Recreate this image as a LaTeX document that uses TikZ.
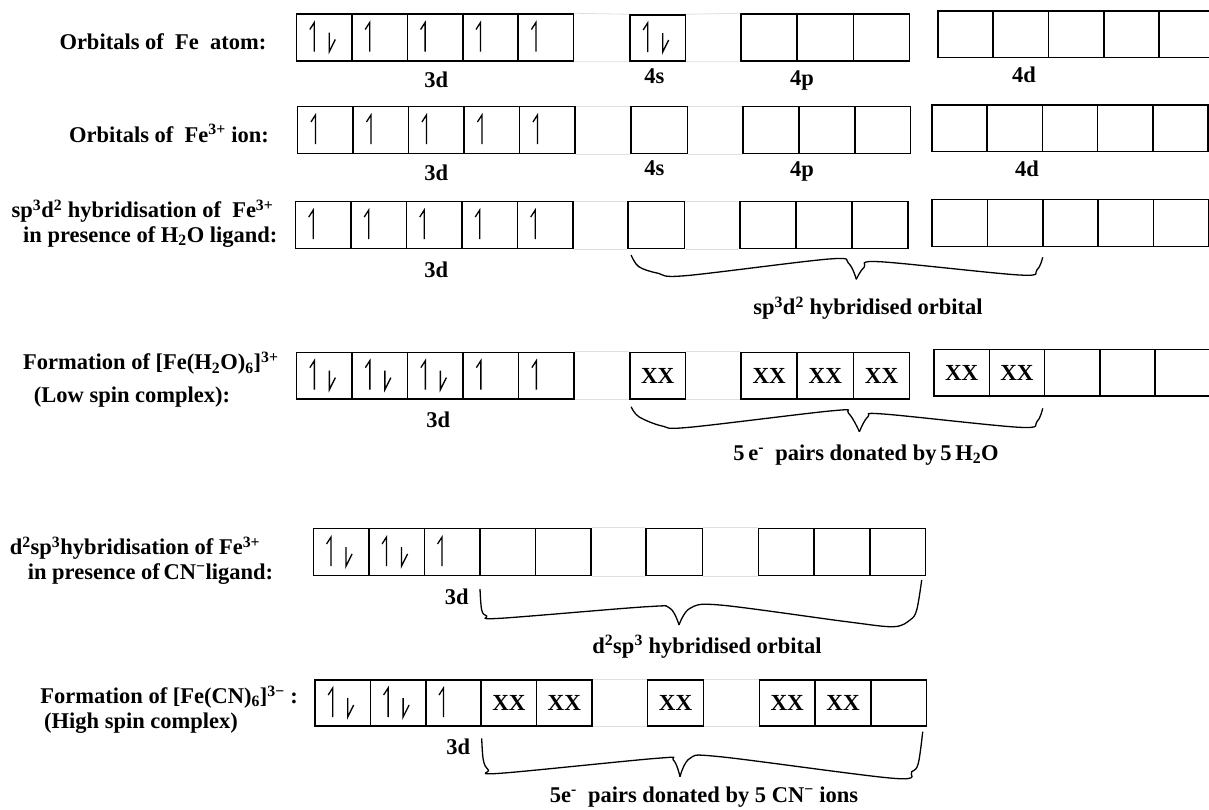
\documentclass[tikz,border=0pt]{standalone}
\usepackage{fontspec}
\setmainfont{Liberation Serif}
\begin{document}
\begin{tikzpicture}[x=1pt,y=-1pt,
  obox/.style={draw, line width=1.5pt, inner sep=0pt, font=\bfseries\fontsize{23}{23}\selectfont},
  spin/.style={line width=1.3pt, line join=miter},
  lab/.style={font=\bfseries\fontsize{22.5}{25}\selectfont, inner sep=0pt},
  gridln/.style={draw=gray!25, line width=0.8pt},
  brace/.style={line width=1.3pt},
  orbu/.pic={\draw[spin] (-10,14) -- (-10,-15) -- (-14.5,-8);},
  orbud/.pic={\draw[spin] (-10,14) -- (-10,-15) -- (-14.5,-8);
              \draw[spin] (5,-5) -- (5,14) -- (11,2);},
  orbx/.pic={},
  orbe/.pic={}
]
\fill[white] (0,0) rectangle (1209,809);
\useasboundingbox (0,0) rectangle (1209,809);

% #1 name prefix, #2 x left, #3 y top, #4 y bottom, #5 box width, #6 list kind/text
\newcommand{\orbs}[6]{%
  \foreach \kind/\ctext [count=\ii] in {#6} {%
    \node[obox, minimum width=#5, minimum height={#4-#3}] (#1\ii) at ({#2+#5*(\ii-0.5)},{(#3+#4)/2}) {\ctext};
    \pic at (#1\ii.center) {orb\kind};
  }}

% ---------- Row 1: Fe atom ----------
\orbs{ad}{296.6}{14}{61}{55.4}{ud/,u/,u/,u/,u/}
\orbs{as}{629.9}{15}{61}{55.5}{ud/}
\orbs{ap}{741}{14}{61}{56.2}{e/,e/,e/}
\orbs{ae}{937.9}{11}{57.7}{55.3}{e/,e/,e/,e/,e/}
\draw[gridln] (ad5.north east) -- (as1.north west) (as1.north east) -- (ap1.north west)
              (ad5.south east) -- (as1.south west) (as1.south east) -- (ap1.south west);
\node[lab, anchor=west] (t1) at (59.3,41.7) {Orbitals of\ \ Fe\ \ atom:};
\node[lab] (ad-l) at (436.3,80) {3d};
\node[lab] (as-l) at (654.4,76.7) {4s};
\node[lab] (ap-l) at (802,80) {4p};
\node[lab] (ae-l) at (1024,75) {4d};

% ---------- Row 2: Fe3+ ion ----------
\orbs{bd}{297.7}{106.7}{153.3}{55.5}{u/,u/,u/,u/,u/}
\orbs{bs}{631}{106.7}{153.3}{56.4}{e/}
\orbs{bp}{743}{106.7}{153.3}{55.9}{e/,e/,e/}
\orbs{be}{932}{105}{151.7}{55.2}{e/,e/,e/,e/,e/}
\draw[gridln] (bd5.north east) -- (bs1.north west) (bs1.north east) -- (bp1.north west)
              (bd5.south east) -- (bs1.south west) (bs1.south east) -- (bp1.south west);
\node[lab, anchor=west] (t2) at (68.9,133.3) {Orbitals of\ \ Fe\textsuperscript{3+} ion:};
\node[lab] (bd-l) at (436.3,172.7) {3d};
\node[lab] (bs-l) at (654.4,168) {4s};
\node[lab] (bp-l) at (802,171.7) {4p};
\node[lab] (be-l) at (1027,168.3) {4d};

% ---------- Row 3: sp3d2 ----------
\orbs{cd}{295.5}{201.7}{248.3}{55.5}{u/,u/,u/,u/,u/}
\orbs{cs}{628}{201.7}{248.3}{56.3}{e/}
\orbs{cp}{739.8}{201.7}{248.3}{56}{e/,e/,e/}
\orbs{ce}{932}{199.3}{246.7}{55.4}{e/,e/,e/,e/,e/}
\draw[gridln] (cd5.north east) -- (cs1.north west) (cs1.north east) -- (cp1.north west)
              (cd5.south east) -- (cs1.south west) (cs1.south east) -- (cp1.south west);
\node[lab, anchor=west] (t3a) at (11.5,211) {sp\textsuperscript{3}d\textsuperscript{2} hybridisation of\ \ Fe\textsuperscript{3+}};
\node[lab, anchor=west] (t3b) at (23,237) {in presence of H\textsubscript{2}O ligand:};
\node[lab] (cd-l) at (436.3,269.3) {3d};
\draw[brace] plot[smooth, tension=0.55] coordinates {(631.1,255) (638.8,266.7) (658.3,273.3) (685.4,275.7) (829.1,259) (848.5,263.3) (856.3,279.3)};
\draw[brace] plot[smooth, tension=0.55] coordinates {(856.3,279.3) (864.1,267.3) (879.6,261.7) (1019.4,275) (1036.9,270) (1042.7,257.3)};
\node[lab] (c-h) at (868,308.3) {sp\textsuperscript{3}d\textsuperscript{2} hybridised orbital};

% ---------- Row 4: [Fe(H2O)6]3+ ----------
\orbs{dd}{296.6}{352.3}{399}{55.5}{ud/,ud/,ud/,u/,u/}
\orbs{ds}{630}{352.3}{399}{55.4}{x/XX}
\orbs{dp}{741}{352.3}{399}{56.2}{x/XX,x/XX,x/XX}
\orbs{de}{934}{349.3}{396}{55.3}{x/XX,x/XX,e/,e/,e/}
\draw[gridln] (dd5.north east) -- (ds1.north west) (ds1.north east) -- (dp1.north west)
              (dd5.south east) -- (ds1.south west) (ds1.south east) -- (dp1.south west);
\node[lab, anchor=west] (t4a) at (23,363.3) {Formation of [Fe(H\textsubscript{2}O)\textsubscript{6}]\textsuperscript{3+}};
\node[lab, anchor=west] (t4b) at (33.7,396.7) {(Low spin complex):};
\node[lab] (dd-l) at (438.2,420) {3d};
\draw[brace] plot[smooth, tension=0.55] coordinates {(631.1,406.7) (638.8,416.7) (662.1,426) (689.3,427.3) (833,410.7) (848.5,413.3) (859.4,431.7)};
\draw[brace] plot[smooth, tension=0.55] coordinates {(859.4,431.7) (868,416.7) (883.5,414) (1019.4,427.3) (1036.9,421.7) (1042.7,408.3)};
\node[lab] (d-h) at (866,455) {5\,e\textsuperscript{-}\ \ pairs donated by\,5\,H\textsubscript{2}O};

% ---------- Row 5: d2sp3 ----------
\orbs{ed}{313.3}{528.3}{575.7}{55.5}{ud/,ud/,u/,e/,e/}
\orbs{es}{646}{528.3}{575.7}{56.5}{e/}
\orbs{ep}{758.3}{528.3}{575.7}{55.8}{e/,e/,e/}
\draw[gridln] (ed5.north east) -- (es1.north west) (es1.north east) -- (ep1.north west)
              (ed5.south east) -- (es1.south west) (es1.south east) -- (ep1.south west);
\node[lab, anchor=west] (t5a) at (9.6,548) {d\textsuperscript{2}sp\textsuperscript{3}hybridisation of Fe\textsuperscript{3+}};
\node[lab, anchor=west] (t5b) at (27.6,574) {in presence of\,CN\textsuperscript{−}ligand:};
\node[lab] (ed-l) at (456.7,596.7) {3d};
\draw[brace] plot[smooth, tension=0.55] coordinates {(480,589) (481.7,610) (486.7,616) (500,618.3) (646.7,606.7) (670,608.3) (679,625)};
\draw[brace] plot[smooth, tension=0.55] coordinates {(679,625) (690,608.3) (720,605) (846.7,621.7) (893.3,626.7) (910,620) (916.7,610) (921.7,580)};
\node[lab] (e-h) at (707,646.7) {d\textsuperscript{2}sp\textsuperscript{3} hybridised orbital};

% ---------- Row 6: [Fe(CN)6]3- ----------
\orbs{fd}{315}{680}{726}{55.4}{ud/,ud/,u/,x/XX,x/XX}
\orbs{fs}{647.7}{680}{726}{55.6}{x/XX}
\orbs{fp}{759.3}{680}{726}{55.8}{x/XX,x/XX,e/}
\draw[gridln] (fd5.north east) -- (fs1.north west) (fs1.north east) -- (fp1.north west)
              (fd5.south east) -- (fs1.south west) (fs1.south east) -- (fp1.south west);
\node[lab, anchor=west] (t6a) at (40.2,697) {Formation of [Fe(CN)\textsubscript{6}]\textsuperscript{3−} :};
\node[lab, anchor=west] (t6b) at (44,723.5) {(High spin complex)};
\node[lab] (fd-l) at (458.3,747) {3d};
\draw[brace] plot[smooth, tension=0.55] coordinates {(481.7,738.3) (483.3,760) (488.3,770) (500,773.3) (656.7,758.3) (673.3,760) (680,776.7)};
\draw[brace] plot[smooth, tension=0.55] coordinates {(680,776.7) (690,758.3) (720,756.7) (893.3,778.3) (911.7,771.7) (918.3,763.3) (922.7,731.7)};
\node[lab] (f-h) at (704,796.7) {5e\textsuperscript{-}\ \ pairs donated by 5 CN\textsuperscript{−} ions};
\end{tikzpicture}
\end{document}
